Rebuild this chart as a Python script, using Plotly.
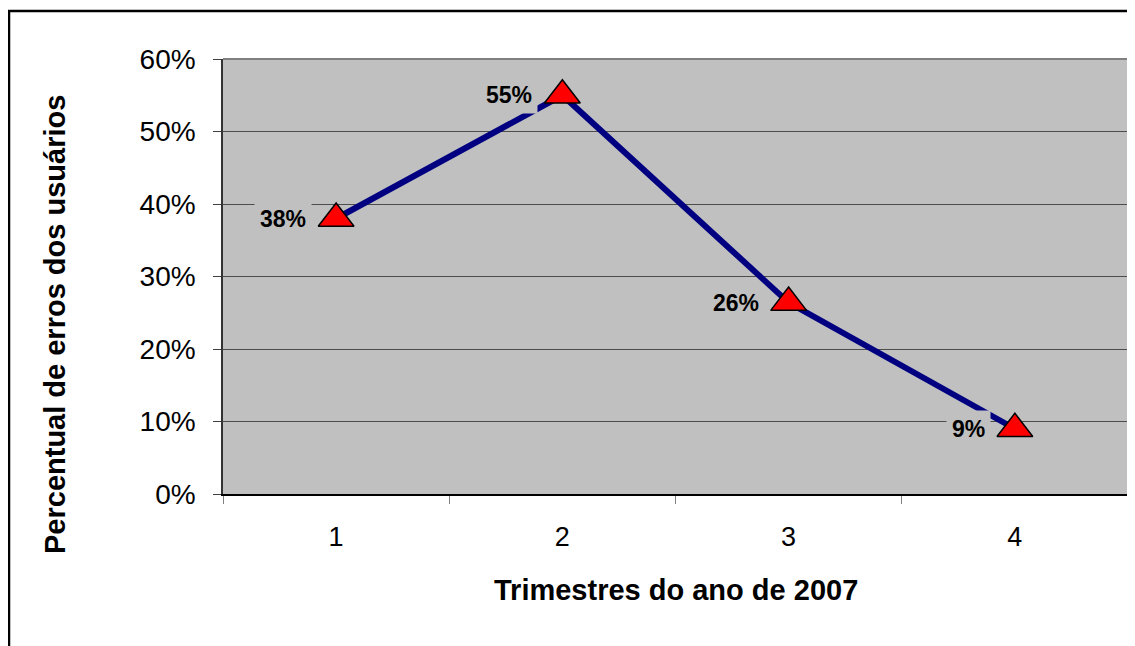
import plotly.graph_objects as go

quarters = [1, 2, 3, 4]
tick_labels = ["1", "2", "3", "4"]
error_pct = [0.38, 0.55, 0.264, 0.09]
point_labels = ["38%", "55%", "26%", "9%"]

x_title = "Trimestres do ano de 2007"
y_title = "Percentual de erros dos usuários"

FONT = "Liberation Sans, Arial, sans-serif"

fig = go.Figure()
fig.add_trace(go.Scatter(
    x=quarters, y=error_pct, mode="lines+markers",
    line=dict(color="#000080", width=6),
    marker=dict(symbol="triangle-up", size=31, color="#FF0000",
                line=dict(color="#000000", width=1.5)),
    hoverinfo="skip", showlegend=False,
))

for xv, yv, t in zip(quarters, error_pct, point_labels):
    fig.add_annotation(x=xv, y=yv, text="<b>%s</b>" % t, showarrow=False,
                       xanchor="right", yanchor="middle", xshift=-24,
                       font=dict(family=FONT, size=23, color="#000000"),
                       bgcolor="#C0C0C0", borderpad=5)

# axis titles
fig.add_annotation(x=0.5, y=-0.22, xref="paper", yref="paper",
                   text="<b>%s</b>" % x_title, showarrow=False,
                   xanchor="center", yanchor="middle",
                   font=dict(family=FONT, size=29, color="#000000"))
fig.add_annotation(x=(55 - 223) / 905, y=(494 - 325) / 435, xref="paper", yref="paper",
                   text="<b>%s</b>" % y_title, showarrow=False, textangle=-90,
                   xanchor="center", yanchor="middle",
                   font=dict(family=FONT, size=29, color="#000000"))

# outer chart border
fig.add_shape(type="rect", xref="paper", yref="paper",
              x0=(9 - 223) / 905, x1=1.2, y0=-0.6, y1=(494 - 11) / 435,
              line=dict(color="#000000", width=2.5), layer="above")
# plot-area top and right edges
fig.add_shape(type="line", xref="paper", yref="paper", x0=0, x1=1, y0=1, y1=1,
              line=dict(color="#808080", width=2), layer="above")
fig.add_shape(type="line", xref="paper", yref="paper", x0=1, x1=1, y0=0, y1=1,
              line=dict(color="#808080", width=2), layer="above")

fig.update_xaxes(
    range=[0.5, 4.5], tickvals=quarters, ticktext=tick_labels,
    ticks="", showgrid=False, zeroline=False,
    showline=True, linecolor="#000000", linewidth=2,
    tickfont=dict(family=FONT, size=27, color="#000000"),
    ticklabelstandoff=18,
    minor=dict(tickvals=[0.5, 1.5, 2.5, 3.5, 4.5], ticks="outside",
               ticklen=8, tickcolor="#808080", tickwidth=1, showgrid=False),
    fixedrange=True,
)
fig.update_yaxes(
    range=[0, 0.6], dtick=0.1, tickformat=".0%",
    ticks="outside", ticklen=8, tickcolor="#404040", tickwidth=1,
    showgrid=True, gridcolor="#4d4d4d", gridwidth=1, zeroline=False,
    showline=True, linecolor="#333333", linewidth=1.5,
    tickfont=dict(family=FONT, size=28, color="#000000"),
    ticklabelstandoff=12,
    fixedrange=True,
)

# page body has an 8px margin, so the figure is sized/offset to compensate
fig.update_layout(
    width=1127, height=638,
    margin=dict(l=215, r=7, t=51, b=152, autoexpand=False),
    paper_bgcolor="#FFFFFF", plot_bgcolor="#C0C0C0",
    font=dict(family=FONT, color="#000000"),
)

fig.write_html("out.html", config={"displayModeBar": False})
